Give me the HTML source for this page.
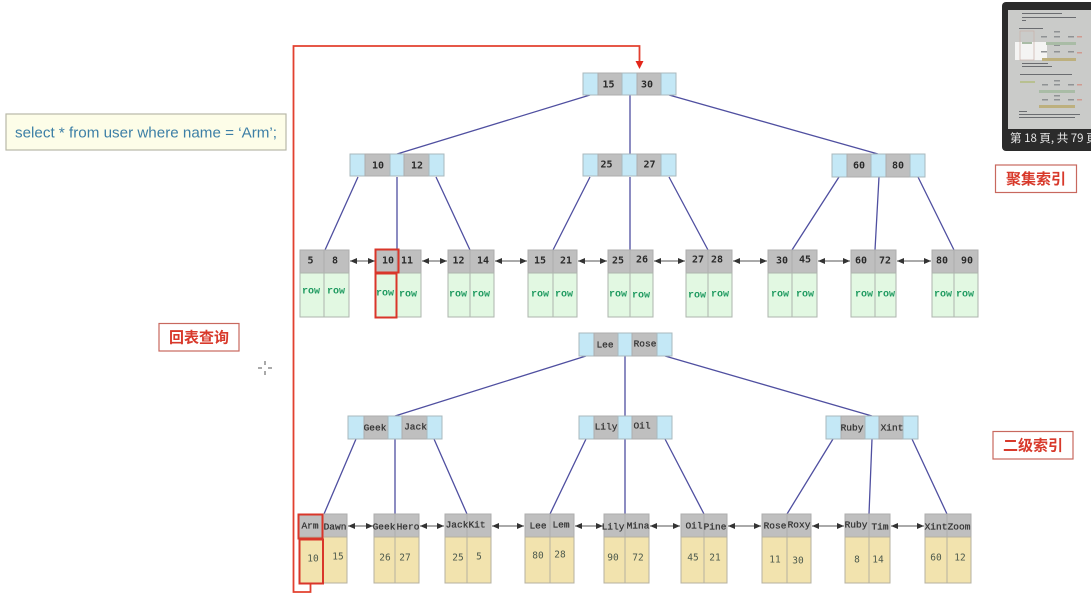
<!DOCTYPE html>
<html>
<head>
<meta charset="utf-8">
<style>
html,body{margin:0;padding:0;background:#fff;width:1091px;height:606px;overflow:hidden}
svg{display:block;filter:blur(.3px)}
.k{font:bold 10px "DejaVu Sans Mono","Liberation Mono",monospace;fill:#2a2a2a;text-anchor:middle;dominant-baseline:central}
.n{font:9.5px "Liberation Mono",monospace;fill:#333;stroke:#333;stroke-width:.25;text-anchor:middle;dominant-baseline:central}
.v{font:9.5px "DejaVu Sans Mono",monospace;fill:#4d5a4d;text-anchor:middle;dominant-baseline:central}
.r{font:bold 10px "Liberation Mono",monospace;fill:#1f9a60;text-anchor:middle;dominant-baseline:central}
.b{fill:#c4e8f6;stroke:#a9b8bd;stroke-width:1}
.g{fill:#bfbfbf;stroke:#adadad;stroke-width:1}
.gr{fill:#e2f8e2;stroke:#adb5ad;stroke-width:1}
.y{fill:#f2e3ae;stroke:#b5b0a0;stroke-width:1}
.l{stroke:#4f4fa0;stroke-width:1.300;fill:none}
.a line{stroke:#555;stroke-width:1;marker-start:url(#ah);marker-end:url(#ah)}
.t{font:bold 15px "Noto Sans CJK SC","WenQuanYi Zen Hei",sans-serif;fill:#d8392b;text-anchor:middle;dominant-baseline:central}
.tb{fill:#fff;stroke:#c8685e;stroke-width:1.200}
.rb{fill:none;stroke:#d9362a;stroke-width:2}
.p{fill:#6a6c70}
.tg{fill:#a9bca6}
.ty{fill:#bdb07e}
.tl{fill:#8f9294}
</style>
</head>
<body>
<svg width="1091" height="606" viewBox="0 0 1091 606" xmlns="http://www.w3.org/2000/svg">
<defs>
<marker id="ah" markerWidth="7" markerHeight="6" refX="7" refY="3" orient="auto-start-reverse" markerUnits="userSpaceOnUse"><path d="M0 0L7 3L0 6Z" fill="#333"/></marker>
</defs>
<rect width="1091" height="606" fill="#fff"/>

<!-- connectors, top tree -->
<path class="l" d="M590 95L397 154M630 95V154M669 95L878 154M358 177L325 250M397 177V250M436 177L470 250M590 177L553 250M630 177V250M669 177L708 250M839 177L792 250M879 177L875 250M918 177L954 250"/>
<!-- connectors, lower tree -->
<path class="l" d="M586 356L395 416M625 356V416M665 356L872 416M356 439L324 514M395 439V514M434 439L467 514M586 439L550 514M625 439V514M665 439L704 514M833 439L787 514M872 439L869 514M912 439L947 514"/>

<!-- top root -->
<rect class="b" x="583" y="73" width="15" height="22"/><rect class="g" x="598" y="73" width="24" height="22"/><rect class="b" x="622" y="73" width="15" height="22"/><rect class="g" x="637" y="73" width="24" height="22"/><rect class="b" x="661" y="73" width="15" height="22"/>
<text class="k" x="608.500" y="85">15</text><text class="k" x="647" y="85">30</text>

<!-- top level 2 -->
<rect class="b" x="350" y="154" width="15" height="22"/><rect class="g" x="365" y="154" width="25" height="22"/><rect class="b" x="390" y="154" width="14" height="22"/><rect class="g" x="404" y="154" width="25" height="22"/><rect class="b" x="429" y="154" width="15" height="22"/>
<text class="k" x="378" y="166">10</text><text class="k" x="417" y="166">12</text>
<rect class="b" x="583" y="154" width="15" height="22"/><rect class="g" x="598" y="154" width="24" height="22"/><rect class="b" x="622" y="154" width="15" height="22"/><rect class="g" x="637" y="154" width="24" height="22"/><rect class="b" x="661" y="154" width="15" height="22"/>
<text class="k" x="606.500" y="165">25</text><text class="k" x="649.500" y="165">27</text>
<rect class="b" x="832" y="154" width="15" height="23"/><rect class="g" x="847" y="154" width="24" height="23"/><rect class="b" x="871" y="154" width="15" height="23"/><rect class="g" x="886" y="154" width="24" height="23"/><rect class="b" x="910" y="154" width="15" height="23"/>
<text class="k" x="859" y="166">60</text><text class="k" x="898" y="166">80</text>

<!-- top leaves -->
<rect class="g" x="300" y="250" width="24" height="23"/><rect class="g" x="324" y="250" width="25" height="23"/><rect class="gr" x="300" y="273" width="24" height="44"/><rect class="gr" x="324" y="273" width="25" height="44"/>
<rect class="g" x="375" y="250" width="22" height="23"/><rect class="g" x="397" y="250" width="24" height="23"/><rect class="gr" x="375" y="273" width="22" height="44"/><rect class="gr" x="397" y="273" width="24" height="44"/>
<rect class="g" x="448" y="250" width="22" height="23"/><rect class="g" x="470" y="250" width="24" height="23"/><rect class="gr" x="448" y="273" width="22" height="44"/><rect class="gr" x="470" y="273" width="24" height="44"/>
<rect class="g" x="528" y="250" width="25" height="23"/><rect class="g" x="553" y="250" width="24" height="23"/><rect class="gr" x="528" y="273" width="25" height="44"/><rect class="gr" x="553" y="273" width="24" height="44"/>
<rect class="g" x="608" y="250" width="22" height="23"/><rect class="g" x="630" y="250" width="23" height="23"/><rect class="gr" x="608" y="273" width="22" height="44"/><rect class="gr" x="630" y="273" width="23" height="44"/>
<rect class="g" x="686" y="250" width="22" height="23"/><rect class="g" x="708" y="250" width="24" height="23"/><rect class="gr" x="686" y="273" width="22" height="44"/><rect class="gr" x="708" y="273" width="24" height="44"/>
<rect class="g" x="768" y="250" width="24" height="23"/><rect class="g" x="792" y="250" width="25" height="23"/><rect class="gr" x="768" y="273" width="24" height="44"/><rect class="gr" x="792" y="273" width="25" height="44"/>
<rect class="g" x="851" y="250" width="24" height="23"/><rect class="g" x="875" y="250" width="21" height="23"/><rect class="gr" x="851" y="273" width="24" height="44"/><rect class="gr" x="875" y="273" width="21" height="44"/>
<rect class="g" x="932" y="250" width="22" height="23"/><rect class="g" x="954" y="250" width="24" height="23"/><rect class="gr" x="932" y="273" width="22" height="44"/><rect class="gr" x="954" y="273" width="24" height="44"/>
<g>
<text class="k" x="310.500" y="261">5</text><text class="k" x="335" y="261">8</text>
<text class="k" x="388" y="261">10</text><text class="k" x="407" y="261">11</text>
<text class="k" x="458.500" y="261">12</text><text class="k" x="483" y="261">14</text>
<text class="k" x="540" y="261">15</text><text class="k" x="566" y="261">21</text>
<text class="k" x="618" y="261">25</text><text class="k" x="642" y="260">26</text>
<text class="k" x="698" y="260">27</text><text class="k" x="717" y="260">28</text>
<text class="k" x="782" y="261">30</text><text class="k" x="805" y="260">45</text>
<text class="k" x="861" y="261">60</text><text class="k" x="885" y="261">72</text>
<text class="k" x="942" y="261">80</text><text class="k" x="967" y="261">90</text>
</g>
<g>
<text class="r" x="311" y="292">row</text><text class="r" x="336" y="292">row</text>
<text class="r" x="385" y="294">row</text><text class="r" x="408" y="295">row</text>
<text class="r" x="458" y="295">row</text><text class="r" x="481" y="295">row</text>
<text class="r" x="540" y="295">row</text><text class="r" x="564" y="295">row</text>
<text class="r" x="618" y="295">row</text><text class="r" x="641" y="296">row</text>
<text class="r" x="697" y="296">row</text><text class="r" x="720" y="295">row</text>
<text class="r" x="780" y="295">row</text><text class="r" x="805" y="295">row</text>
<text class="r" x="864" y="295">row</text><text class="r" x="886" y="295">row</text>
<text class="r" x="943" y="295">row</text><text class="r" x="965" y="295">row</text>
</g>
<g class="a">
<line x1="350" y1="261" x2="375" y2="261"/><line x1="422" y1="261" x2="447" y2="261"/><line x1="495" y1="261" x2="527" y2="261"/><line x1="578" y1="261" x2="607" y2="261"/><line x1="654" y1="261" x2="685" y2="261"/><line x1="733" y1="261" x2="767" y2="261"/><line x1="818" y1="261" x2="850" y2="261"/><line x1="897" y1="261" x2="931" y2="261"/>
</g>

<!-- lower root -->
<rect class="b" x="579" y="333" width="15" height="23"/><rect class="g" x="594" y="333" width="24" height="23"/><rect class="b" x="618" y="333" width="14" height="23"/><rect class="g" x="632" y="333" width="25" height="23"/><rect class="b" x="657" y="333" width="15" height="23"/>
<text class="n" x="605" y="345">Lee</text><text class="n" x="645" y="344">Rose</text>

<!-- lower level 2 -->
<rect class="b" x="348" y="416" width="16" height="23"/><rect class="g" x="364" y="416" width="24" height="23"/><rect class="b" x="388" y="416" width="14" height="23"/><rect class="g" x="402" y="416" width="25" height="23"/><rect class="b" x="427" y="416" width="15" height="23"/>
<text class="n" x="375" y="428">Geek</text><text class="n" x="415.500" y="427">Jack</text>
<rect class="b" x="579" y="416" width="15" height="23"/><rect class="g" x="594" y="416" width="24" height="23"/><rect class="b" x="618" y="416" width="14" height="23"/><rect class="g" x="632" y="416" width="25" height="23"/><rect class="b" x="657" y="416" width="15" height="23"/>
<text class="n" x="606" y="427">Lily</text><text class="n" x="642" y="426">Oil</text>
<rect class="b" x="826" y="416" width="15" height="23"/><rect class="g" x="841" y="416" width="24" height="23"/><rect class="b" x="865" y="416" width="14" height="23"/><rect class="g" x="879" y="416" width="24" height="23"/><rect class="b" x="903" y="416" width="15" height="23"/>
<text class="n" x="852" y="428">Ruby</text><text class="n" x="892" y="428">Xint</text>

<!-- lower leaves -->
<rect class="g" x="299" y="514" width="24" height="23"/><rect class="g" x="323" y="514" width="24" height="23"/><rect class="y" x="299" y="537" width="24" height="46"/><rect class="y" x="323" y="537" width="24" height="46"/>
<rect class="g" x="374" y="514" width="21" height="23"/><rect class="g" x="395" y="514" width="24" height="23"/><rect class="y" x="374" y="537" width="21" height="46"/><rect class="y" x="395" y="537" width="24" height="46"/>
<rect class="g" x="445" y="514" width="22" height="23"/><rect class="g" x="467" y="514" width="24" height="23"/><rect class="y" x="445" y="537" width="22" height="46"/><rect class="y" x="467" y="537" width="24" height="46"/>
<rect class="g" x="525" y="514" width="25" height="23"/><rect class="g" x="550" y="514" width="24" height="23"/><rect class="y" x="525" y="537" width="25" height="46"/><rect class="y" x="550" y="537" width="24" height="46"/>
<rect class="g" x="604" y="514" width="21" height="23"/><rect class="g" x="625" y="514" width="24" height="23"/><rect class="y" x="604" y="537" width="21" height="46"/><rect class="y" x="625" y="537" width="24" height="46"/>
<rect class="g" x="681" y="514" width="23" height="23"/><rect class="g" x="704" y="514" width="23" height="23"/><rect class="y" x="681" y="537" width="23" height="46"/><rect class="y" x="704" y="537" width="23" height="46"/>
<rect class="g" x="762" y="514" width="25" height="23"/><rect class="g" x="787" y="514" width="24" height="23"/><rect class="y" x="762" y="537" width="25" height="46"/><rect class="y" x="787" y="537" width="24" height="46"/>
<rect class="g" x="845" y="514" width="24" height="23"/><rect class="g" x="869" y="514" width="21" height="23"/><rect class="y" x="845" y="537" width="24" height="46"/><rect class="y" x="869" y="537" width="21" height="46"/>
<rect class="g" x="925" y="514" width="22" height="23"/><rect class="g" x="947" y="514" width="24" height="23"/><rect class="y" x="925" y="537" width="22" height="46"/><rect class="y" x="947" y="537" width="24" height="46"/>
<g>
<text class="n" x="310" y="526">Arm</text><text class="n" x="335" y="527">Dawn</text>
<text class="n" x="384" y="527">Geek</text><text class="n" x="408" y="527">Hero</text>
<text class="n" x="457" y="525">Jack</text><text class="n" x="477" y="525">Kit</text>
<text class="n" x="538" y="526">Lee</text><text class="n" x="561" y="525">Lem</text>
<text class="n" x="613" y="527">Lily</text><text class="n" x="638" y="526">Mina</text>
<text class="n" x="694" y="526">Oil</text><text class="n" x="715" y="527">Pine</text>
<text class="n" x="775" y="526">Rose</text><text class="n" x="799" y="525">Roxy</text>
<text class="n" x="856" y="525">Ruby</text><text class="n" x="880" y="527">Tim</text>
<text class="n" x="936" y="527">Xint</text><text class="n" x="959" y="527">Zoom</text>
</g>
<g>
<text class="v" x="313" y="559">10</text><text class="v" x="338" y="557">15</text>
<text class="v" x="385" y="558">26</text><text class="v" x="405" y="558">27</text>
<text class="v" x="458" y="558">25</text><text class="v" x="479" y="557">5</text>
<text class="v" x="538" y="556">80</text><text class="v" x="560" y="555">28</text>
<text class="v" x="613" y="558">90</text><text class="v" x="638" y="558">72</text>
<text class="v" x="693" y="558">45</text><text class="v" x="715" y="558">21</text>
<text class="v" x="775" y="560">11</text><text class="v" x="798" y="561">30</text>
<text class="v" x="857" y="560">8</text><text class="v" x="878" y="560">14</text>
<text class="v" x="936" y="558">60</text><text class="v" x="960" y="558">12</text>
</g>
<g class="a">
<line x1="348" y1="526" x2="373" y2="526"/><line x1="420" y1="526" x2="444" y2="526"/><line x1="492" y1="526" x2="524" y2="526"/><line x1="575" y1="526" x2="603" y2="526"/><line x1="650" y1="526" x2="680" y2="526"/><line x1="728" y1="526" x2="761" y2="526"/><line x1="812" y1="526" x2="844" y2="526"/><line x1="891" y1="526" x2="924" y2="526"/>
</g>

<!-- red highlight path -->
<path d="M310.500 584V592H293.500V46H639.500V62" fill="none" stroke="#e2402f" stroke-width="1.800"/>
<path d="M635.500 61H643.500L639.500 69Z" fill="#e3261a"/>
<rect class="rb" x="375.500" y="249.500" width="23" height="23"/>
<rect class="rb" x="375.500" y="273.500" width="21" height="44"/>
<rect class="rb" x="298.500" y="514.500" width="24" height="24"/>
<rect class="rb" x="299.500" y="539.500" width="23.500" height="44"/>

<!-- sql box -->
<rect x="6" y="114" width="280" height="36" fill="#fdfde8" stroke="#b8b8a8" stroke-width="1.200"/>
<text x="15" y="133" textLength="262" lengthAdjust="spacingAndGlyphs" style="font:15px 'Liberation Sans',sans-serif;fill:#3d7fa6;dominant-baseline:central">select * from user where name = ‘Arm’;</text>

<!-- tags -->
<rect class="tb" x="159" y="323.500" width="80" height="27.500"/>
<text class="t" x="199" y="337">回表查询</text>
<rect class="tb" x="995.500" y="165" width="81" height="27.500"/>
<text class="t" x="1036" y="178.500">聚集索引</text>
<rect class="tb" x="993" y="431.500" width="80" height="27.500"/>
<text class="t" x="1033" y="445">二级索引</text>

<!-- cursor -->
<path d="M265 361V365M265 371V375M258 368H262M268 368H272" stroke="#555" stroke-width="1" fill="none"/>

<!-- thumbnail -->
<rect x="1002" y="2" width="100" height="149" rx="4" fill="#2b2b2b"/>
<rect x="1008" y="10" width="83" height="119" fill="#cacbc9"/>
<g>
<rect class="p" x="1022" y="13" width="40" height="1"/><rect class="p" x="1022" y="17" width="54" height="1"/><rect class="p" x="1022" y="20" width="4" height="1"/>
<rect class="p" x="1019" y="28" width="24" height="1"/>
<rect x="1015" y="42" width="32" height="18" fill="#f4f4f3"/>
<rect x="1020" y="31" width="14" height="29" fill="none" stroke="#c9b0a8" stroke-width=".7"/>
<rect class="tl" x="1054" y="31" width="6" height="1.500"/>
<rect class="tl" x="1041" y="36" width="6" height="1.500"/><rect class="tl" x="1054" y="36" width="6" height="1.500"/><rect class="tl" x="1068" y="36" width="6" height="1.500"/>
<rect class="tg" x="1022" y="42" width="10" height="2"/><rect class="tg" x="1046" y="42" width="30" height="3"/>
<rect class="tl" x="1054" y="45" width="6" height="1"/>
<rect class="tl" x="1041" y="51" width="6" height="1.500"/><rect class="tl" x="1054" y="51" width="6" height="1.500"/><rect class="tl" x="1068" y="51" width="6" height="1.500"/>
<rect class="ty" x="1042" y="58" width="34" height="3"/>
<rect x="1077" y="36" width="5" height="1.500" fill="#d09a90"/><rect x="1077" y="52" width="5" height="1.500" fill="#d09a90"/>
<rect class="p" x="1022" y="63" width="26" height="1"/><rect class="p" x="1022" y="66" width="30" height="1"/>
<rect class="p" x="1020" y="74" width="52" height="1"/>
<rect class="tl" x="1054" y="80" width="6" height="1.500"/>
<rect x="1020" y="81" width="15" height="2" fill="#b8c090"/>
<rect class="tl" x="1042" y="84" width="6" height="1.500"/><rect class="tl" x="1054" y="84" width="6" height="1.500"/><rect class="tl" x="1068" y="84" width="6" height="1.500"/>
<rect class="tg" x="1039" y="90" width="36" height="3"/>
<rect class="tl" x="1054" y="95" width="6" height="1.500"/>
<rect class="tl" x="1042" y="99" width="6" height="1.500"/><rect class="tl" x="1054" y="99" width="6" height="1.500"/><rect class="tl" x="1068" y="99" width="6" height="1.500"/>
<rect class="ty" x="1039" y="105" width="36" height="3"/>
<rect x="1077" y="84" width="5" height="1.500" fill="#d09a90"/><rect x="1077" y="99" width="5" height="1.500" fill="#d09a90"/>
<rect class="p" x="1019" y="111" width="8" height="1"/>
<rect class="p" x="1019" y="114" width="61" height="1"/><rect class="p" x="1019" y="117" width="56" height="1"/>
</g>
<text x="1010" y="142" style="font:11.500px 'Noto Sans CJK TC',sans-serif;fill:#e8e8e8">第 18 頁, 共 79 頁</text>
</svg>
</body>
</html>
